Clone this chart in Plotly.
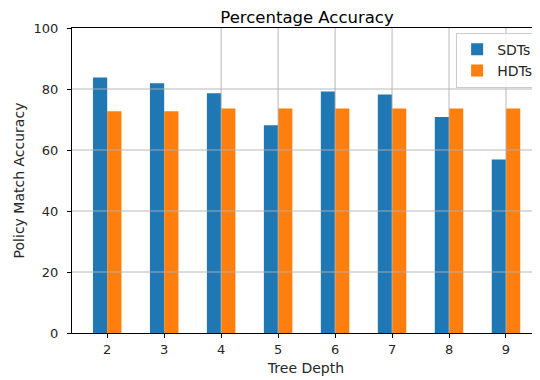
import plotly.graph_objects as go

depths = ["2", "3", "4", "5", "6", "7", "8", "9"]
sdt_acc = [83.8, 81.9, 78.6, 68.1, 79.2, 78.2, 70.8, 56.9]
hdt_acc = [72.7, 72.7, 73.6, 73.6, 73.6, 73.6, 73.6, 73.6]
y_ticks = [0, 20, 40, 60, 80, 100]

FONT = "DejaVu Sans"
GRID = "#b0b0b0"
W, H = 532, 372  # page body adds an 8px offset

fig = go.Figure()
fig.add_trace(go.Bar(x=depths, y=sdt_acc, name="SDTs", marker=dict(color="#1f77b4", line=dict(width=0))))
fig.add_trace(go.Bar(x=depths, y=hdt_acc, name="HDTs", marker=dict(color="#ff7f0e", line=dict(width=0))))

# grid lines drawn above bars, as in the reference
shapes = []
for v in y_ticks[1:-1]:
    shapes.append(dict(type="line", xref="x domain", yref="y", x0=0, x1=1, y0=v, y1=v,
                       line=dict(color=GRID, width=0.9), layer="above"))
for d in depths:
    shapes.append(dict(type="line", xref="x", yref="y domain", x0=d, x1=d, y0=0, y1=1,
                       line=dict(color=GRID, width=0.9), layer="above"))

fig.update_layout(
    width=W, height=H,
    margin=dict(l=64, r=0, t=20, b=47),
    paper_bgcolor="white", plot_bgcolor="white",
    font=dict(family=FONT, size=13, color="#262626"),
    barmode="group", bargap=0.5, bargroupgap=0,
    shapes=shapes,
    title=dict(text="Percentage Accuracy", font=dict(size=16.5, color="black"),
               xref="container", x=299 / W, xanchor="center",
               yref="container", y=1 - 9 / H, yanchor="middle"),
    legend=dict(x=0.996, xanchor="right", y=0.985, yanchor="top",
                bgcolor="rgba(255,255,255,0.8)", bordercolor="#cccccc", borderwidth=1,
                font=dict(size=14, color="#262626")),
    xaxis=dict(type="category", range=[-0.618, 7.597], showgrid=False, automargin=False,
               showline=True, linecolor="black", linewidth=1, mirror=True,
               ticks="outside", ticklen=4, tickcolor="black", tickfont=dict(size=13),
               title=dict(text="Tree Depth", standoff=7, font=dict(size=14)), layer="above traces"),
    yaxis=dict(range=[0, 100], tickvals=y_ticks, showgrid=False, zeroline=False, automargin=False,
               showline=True, linecolor="black", linewidth=1, mirror=False,
               ticks="outside", ticklen=4, tickcolor="black", tickfont=dict(size=13),
               ticklabelstandoff=6,
               title=dict(text="Policy Match Accuracy", standoff=5, font=dict(size=14)), layer="above traces"),
)

fig.write_html("out.html")
